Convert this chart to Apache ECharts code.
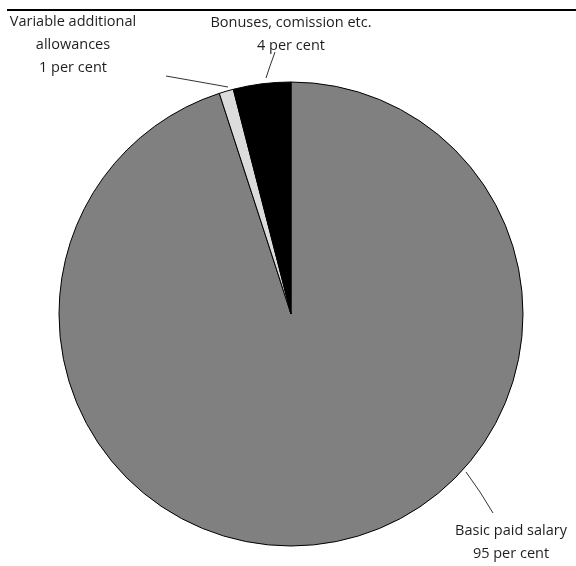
<!DOCTYPE html>
<html>
<head>
<meta charset="utf-8">
<script src="https://cdn.jsdelivr.net/npm/echarts@6/dist/echarts.min.js"></script>
<style>
html,body{margin:0;padding:0;background:#fff;}
#chart{width:576px;height:566px;}
</style>
</head>
<body>
<div id="chart"></div>
<script>
// Data
const categories = ['Basic paid salary', 'Variable additional allowances', 'Bonuses, comission etc.'];
const values = [95, 1, 4];
const labelNames = ['Basic paid salary', 'Variable additional\nallowances', 'Bonuses, comission etc.'];
const unitText = 'per cent';

// Styles / layout
const colors = ['#808080', '#dcdcdc', '#000000'];
const labelPlacement = [
  { x: 511, y: 542, line: [[466, 472], [480, 492], [493, 513]] },
  { x: 73, y: 45, line: [[228, 87], [200, 82], [166, 76]] },
  { x: 291, y: 34, line: [[266, 78], [270, 66], [275, 52]] }
];

const chart = echarts.init(document.getElementById('chart'), null, { renderer: 'canvas' });
chart.setOption({
  animation: false,
  backgroundColor: '#fff',
  graphic: [{
    type: 'line',
    shape: { x1: 7, y1: 10, x2: 576, y2: 10 },
    style: { stroke: '#000', lineWidth: 2 }
  }],
  series: [{
    type: 'pie',
    center: [291, 314],
    radius: 232,
    startAngle: 90,
    clockwise: true,
    avoidLabelOverlap: false,
    emphasis: { disabled: true },
    itemStyle: { borderColor: '#000', borderWidth: 1 },
    data: categories.map((c, i) => ({
      name: c,
      value: values[i],
      itemStyle: { color: colors[i] },
      label: { formatter: labelNames[i] + '\n' + values[i] + ' ' + unitText }
    })),
    label: {
      show: true,
      position: 'outside',
      color: '#1e1e1e',
      fontFamily: 'Open Sans',
      fontSize: 14.5,
      lineHeight: 23,
      align: 'center'
    },
    labelLine: {
      show: true,
      lineStyle: { color: '#333', width: 1 }
    },
    labelLayout: function (params) {
      const p = labelPlacement[params.dataIndex];
      return {
        x: p.x,
        y: p.y,
        align: 'center',
        verticalAlign: 'middle',
        hideOverlap: false,
        labelLinePoints: p.line
      };
    }
  }]
});
</script>
</body>
</html>
